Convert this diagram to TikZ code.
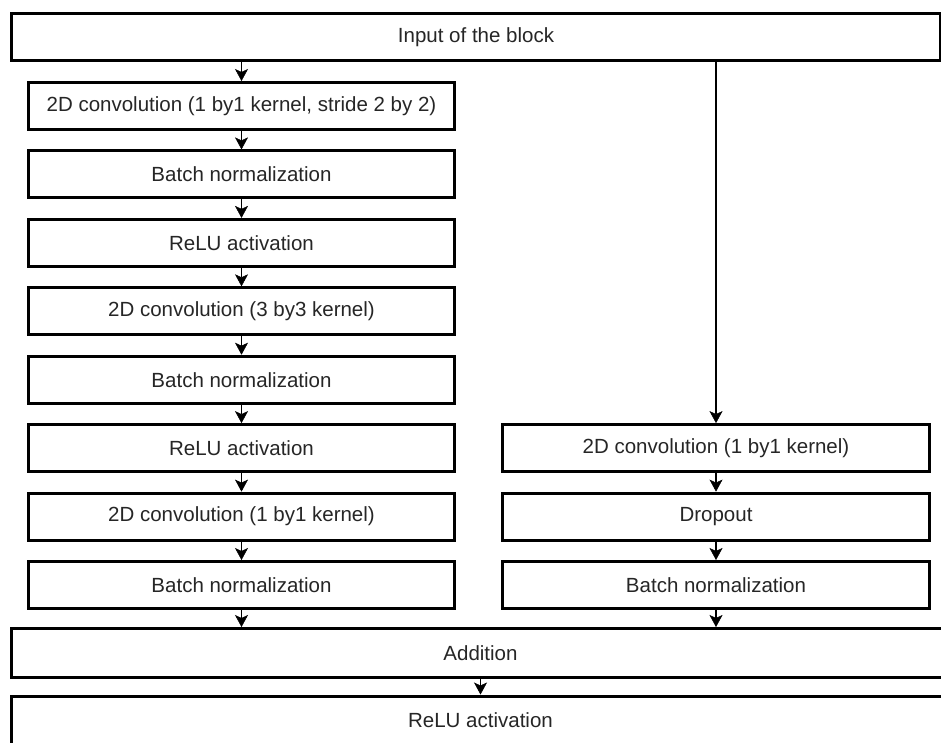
\documentclass[tikz,border=0pt]{standalone}
\usepackage{fontspec}
\setmainfont{Liberation Sans}
\usetikzlibrary{arrows.meta}
\begin{document}
\begin{tikzpicture}[x=1pt,y=1pt,
  blk/.style={draw=black, line width=3pt, fill=white, rectangle, inner sep=0pt,
    minimum height=47pt, text=black!85, font=\fontsize{20.5}{24}\selectfont},
  lcol/.style={blk, minimum width=426pt},
  rcol/.style={blk, minimum width=427pt},
  arr/.style={draw=black, line width=1.6pt, -{Stealth[length=12pt,width=13pt,inset=3pt,line width=0.5pt]}}]
\useasboundingbox (0,0) rectangle (941,-742);
\clip (0,0) rectangle (941,-742);
\fill[white] (0,0) rectangle (941,-742);

\node[blk, minimum width=929pt] (in) at (476,-37) {Input of the block};

\node[lcol] (l1) at (241.5,-106) {2D convolution (1 by1 kernel, stride 2 by 2)};
\node[lcol] (l2) at (241.5,-174.4) {Batch normalization};
\node[lcol] (l3) at (241.5,-242.9) {ReLU activation};
\node[lcol] (l4) at (241.5,-311.3) {2D convolution (3 by3 kernel)};
\node[lcol] (l5) at (241.5,-379.7) {Batch normalization};
\node[lcol] (l6) at (241.5,-448.1) {ReLU activation};
\node[lcol] (l7) at (241.5,-516.6) {2D convolution (1 by1 kernel)};
\node[lcol] (l8) at (241.5,-585) {Batch normalization};

\node[rcol] (r1) at (716,-448.1) {2D convolution (1 by1 kernel)};
\node[rcol] (r2) at (716,-516.6) {Dropout};
\node[rcol] (r3) at (716,-585) {Batch normalization};

\node[blk, minimum width=938pt, minimum height=49pt] (add) at (480.5,-653) {Addition};
\node[blk, minimum width=938pt, minimum height=49pt] (relu) at (480.5,-720.5) {ReLU activation};

\draw[arr] (l1.north |- in.south) -- (l1.north);
\draw[arr] (l1) -- (l2);
\draw[arr] (l2) -- (l3);
\draw[arr] (l3) -- (l4);
\draw[arr] (l4) -- (l5);
\draw[arr] (l5) -- (l6);
\draw[arr] (l6) -- (l7);
\draw[arr] (l7) -- (l8);
\draw[arr] (l8.south) -- (l8.south |- add.north);

\draw[arr] (r1.north |- in.south) -- (r1.north);
\draw[arr] (r1) -- (r2);
\draw[arr] (r2) -- (r3);
\draw[arr] (r3.south) -- (r3.south |- add.north);

\draw[arr] (add) -- (relu);
\end{tikzpicture}
\end{document}
